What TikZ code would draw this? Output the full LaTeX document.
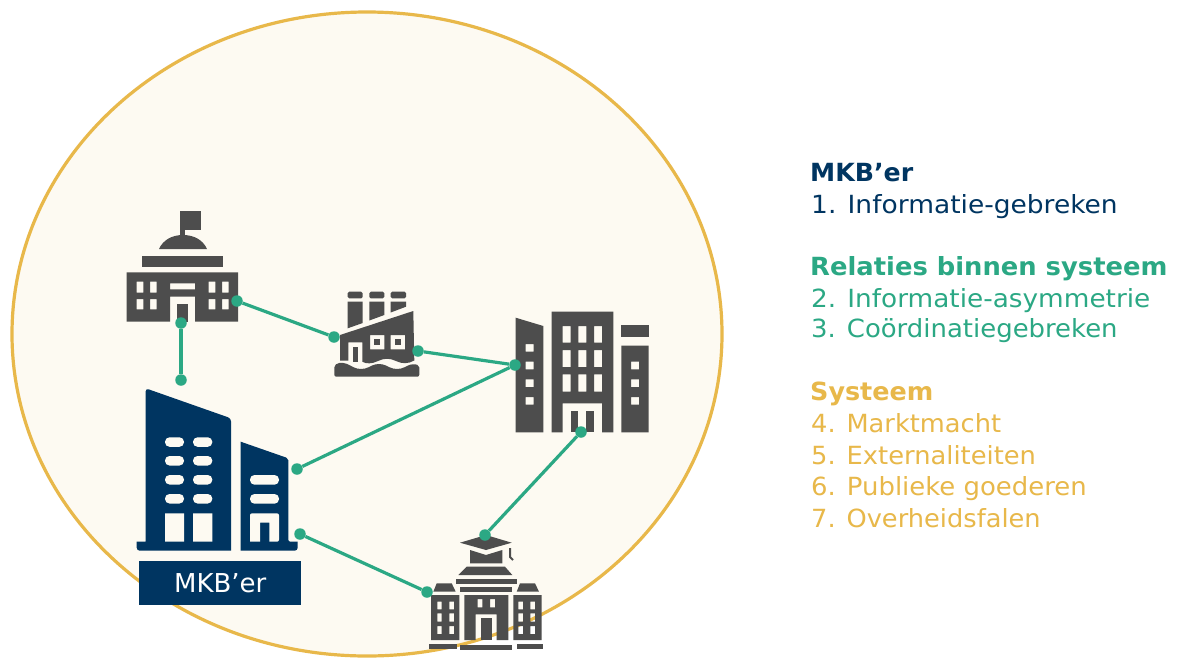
\documentclass[tikz,border=0pt]{standalone}
\usepackage{fontspec}
\setmainfont{DejaVu Sans}
\definecolor{navy}{HTML}{003561}
\definecolor{grn}{HTML}{2BA884}
\definecolor{gold}{HTML}{E8B84A}
\definecolor{cream}{HTML}{FDFAF2}
\definecolor{iconc}{HTML}{4D4D4D}
\tikzset{
  dk/.style={fill=iconc,draw=none,even odd rule},
  bl/.style={fill=navy,draw=none,even odd rule},
  dot/.style={circle,fill=grn,draw=none,inner sep=0pt,minimum size=11.5pt},
  link/.style={draw=grn,line width=3.2pt},
  legend/.style={anchor=base west,inner sep=0pt,font=\fontsize{25}{28}\selectfont},
  legendb/.style={legend,font=\fontsize{25}{28}\selectfont\bfseries},
  sx/.style={xscale=#1,transform shape},
  pill/.style={fill=cream,draw=none,rounded corners=4.5pt}
}
\begin{document}
\begin{tikzpicture}[x=1pt,y=-1pt]
\useasboundingbox (0,0) rectangle (1184,657);
% system circle
\begin{scope}
\clip (0,0) rectangle (1184,657);
\fill[white] (0,0) rectangle (1184,657);
\draw[fill=cream,draw=gold,line width=3.2pt] (367,334) ellipse [x radius=355,y radius=322];
\end{scope}

% --- government building
\path[dk] (179.5,211) rectangle (201,230);
\path[dk] (179.5,211) rectangle (185,237);
\path[dk] (159,249) .. controls (163,240) and (172,235) .. (183,235) .. controls (194,235) and (203,240) .. (207,249) -- cycle;
\path[dk] (142,255.7) rectangle (223,266.7);
\path[dk] (126.7,272.3) -- (238,272.3) -- (238,321.7) -- (195,321.7) -- (195,296.7) -- (170,296.7) -- (170,321.7) -- (126.7,321.7) -- cycle
  (136.7,281.7) rectangle (143.3,292.7) (150,281.7) rectangle (156.7,292.7)
  (136.7,299) rectangle (143.3,309.3) (150,299) rectangle (156.7,309.3)
  (208.7,281.7) rectangle (215.3,292.7) (222,281.7) rectangle (228.7,292.7)
  (208.7,299) rectangle (215.3,309.3) (222,299) rectangle (228.7,309.3)
  (170,283.3) rectangle (195,289.3);
\path[dk] (176.7,304) rectangle (188.3,321.7);

% --- factory
\path[dk,rounded corners=1.5pt] (347.7,291.7) rectangle (362.7,298.3);
\path[dk,rounded corners=1.5pt] (369.3,291.7) rectangle (384.3,298.3);
\path[dk,rounded corners=1.5pt] (390.7,291.7) rectangle (406,298.3);
\path[dk] (347.7,301.7) -- (362.7,301.7) -- (362.7,323) -- (347.7,328.3) -- cycle;
\path[dk] (369.3,301.7) -- (384.3,301.7) -- (384.3,315) -- (369.3,320.5) -- cycle;
\path[dk] (390.7,301.7) -- (406,301.7) -- (406,306.7) -- (390.7,312.5) -- cycle;
\path[dk] (340,335) -- (413.3,311) -- (414.3,360.5)
  .. controls (408,364) and (402,364) .. (396,361) .. controls (390,358) and (384,358) .. (378,361)
  .. controls (372,364) and (366,364) .. (362.3,361.7) -- (362.3,342.3) -- (348.3,342.3) -- (348.3,360.5) -- (340,360.5) -- cycle
  (370,335) rectangle (384.3,349.3) (390.7,335) rectangle (405,349.3);
\path[dk] (374.3,339.3) rectangle (380,345);
\path[dk] (395,339.3) rectangle (400.7,345);
\path[dk] (352.7,347.3) rectangle (357.7,361.7);
\path[dk,rounded corners=2pt] (334.3,376.7) -- (334.3,365.5)
  .. controls (340,361.5) and (346,363) .. (352,366.5) .. controls (358,369.5) and (364,369.5) .. (370,366.5)
  .. controls (376,363.5) and (382,363.5) .. (388,366.5) .. controls (394,369.5) and (400,369.5) .. (406,366.5)
  .. controls (411,364) and (415,364) .. (419.3,365.5) -- (419.3,376.7) -- cycle;

% --- office block
\path[dk] (515.7,317.7) -- (543.3,326) -- (543.3,432.3) -- (515.7,432.3) -- cycle
  (525.7,344) rectangle (533.7,351.7) (525.7,361.7) rectangle (533.7,369.3)
  (525.7,379.3) rectangle (533.7,387) (525.7,397) rectangle (533.7,404.7);
\path[dk] (551.7,311.7) -- (613.3,311.7) -- (613.3,432.3) -- (602,432.3) -- (602,403.3) -- (562.7,403.3) -- (562.7,432.3) -- (551.7,432.3) -- cycle
  (562.7,326) rectangle (570.7,342.7) (578.3,326) rectangle (586.3,342.7) (594,326) rectangle (602,342.7)
  (562.7,350) rectangle (570.7,367) (578.3,350) rectangle (586.3,367) (594,350) rectangle (602,367)
  (562.7,374.3) rectangle (570.7,391.7) (578.3,374.3) rectangle (586.3,391.7) (594,374.3) rectangle (602,391.7);
\path[dk] (570.7,411) rectangle (578.3,432.3);
\path[dk] (586.3,411) rectangle (594,432.3);
\path[dk] (621.3,325) rectangle (648.7,337.3);
\path[dk] (621.3,345.7) rectangle (648.7,432.3)
  (631,361.7) rectangle (639,369.3) (631,379.3) rectangle (639,387) (631,397) rectangle (639,404.7);

% --- MKB building
\path[bl,rounded corners=3pt] (231,550.7) -- (136.7,550.7) [sharp corners] -- (136.7,541.7) -- (145.7,541.7)
  [rounded corners=3pt] -- (145.7,388.3) -- (231,418.3) [sharp corners] -- (231,550.7) -- cycle;
\path[fill=cream] (165,513.3) rectangle (184,541.7) (193,513.3) rectangle (212.3,541.7);
\foreach \y in {437.3,456,475,494}{
  \path[pill] (165,\y) rectangle (184,\y+9.5);
  \path[pill] (193,\y) rectangle (212.3,\y+9.5);
}
\path[bl,rounded corners=2pt] (240.7,441.7) -- (288.3,458.3) -- (288.3,541.7) [sharp corners] -- (297.7,541.7)
  [rounded corners=3pt] -- (297.7,550.7) [sharp corners] -- (240.7,550.7) -- cycle;
\path[pill] (250,475) rectangle (279,484.7);
\path[pill] (250,494) rectangle (279,503.7);
\path[fill=cream,rounded corners=2pt] (250,541.7) -- (250,513.3) -- (279,513.3) -- (279,541.7) [sharp corners] -- (269.3,541.7) -- (269.3,522.7) -- (260,522.7) -- (260,541.7) -- cycle;
\node[fill=navy,text=white,minimum width=161.7pt,minimum height=44.6pt,inner sep=0pt,font=\fontsize{26}{28}\selectfont] (label) at (220.2,583) {MKB’er};

% --- school
\path[dk] (460,542.7) -- (486,535) -- (511.7,542.7) -- (486,550) -- cycle;
\path[dk] (470,550) -- (486,555) -- (502.3,550) -- (502.3,563.3) -- (470,563.3) -- cycle;
\draw[iconc,line width=2pt] (510,548) -- (510,557) -- (513,560);
\path[dk] (466.7,566.7) -- (505,566.7) -- (512.3,575) -- (458.3,575) -- cycle;
\path[dk] (455.7,579) rectangle (516.7,584);
\path[dk] (460,587.3) rectangle (512.3,591.7);
\path[dk] (436.7,583.3) -- (451.7,583.3) -- (455.7,591.7) -- (433.3,591.7) -- cycle;
\path[dk] (520,583.3) -- (535,583.3) -- (539,591.7) -- (516.7,591.7) -- cycle;
\path[dk] (431,595) rectangle (459.3,640)
  (437.3,601.7) rectangle (441.7,609.3) (449.3,601.7) rectangle (454,609.3)
  (437.3,613.3) rectangle (441.7,621.7) (449.3,613.3) rectangle (454,621.7)
  (437.3,626) rectangle (441.7,634) (449.3,626) rectangle (454,634);
\path[dk] (513.3,595) rectangle (541.7,640)
  (518.3,601.7) rectangle (523,609.3) (530.3,601.7) rectangle (535,609.3)
  (518.3,613.3) rectangle (523,621.7) (530.3,613.3) rectangle (535,621.7)
  (518.3,626) rectangle (523,634) (530.3,626) rectangle (535,634);
\path[dk] (464.3,595) -- (508.3,595) -- (508.3,640) -- (496.7,640) -- (496.7,614.3) -- (475.7,614.3) -- (475.7,640) -- (464.3,640) -- cycle
  (477.7,599) rectangle (482.3,607.3) (490,599) rectangle (495,607.3);
\path[dk] (480.7,618.3) rectangle (491.7,640);
\path[dk] (429.3,644) rectangle (456.7,649);
\path[dk] (460,645) rectangle (512.3,650);
\path[dk] (516.7,644) rectangle (543.3,649);

% --- connector end points
\node[dot] (govR) at (237,301) {};
\node[dot] (govB) at (181,323) {};
\node[dot] (mkbT) at (181,380) {};
\node[dot] (facL) at (334,337) {};
\node[dot] (facR) at (418,351) {};
\node[dot] (offL) at (515,365) {};
\node[dot] (offB) at (581,432) {};
\node[dot] (mkbR) at (297,469) {};
\node[dot] (mkbS) at (300,534) {};
\node[dot] (schT) at (485,535) {};
\node[dot] (schL) at (427,592) {};
\draw[link] (govR) -- (facL);
\draw[link] (govB) -- (mkbT);
\draw[link] (facR) -- (offL);
\draw[link] (offL) -- (mkbR);
\draw[link] (offB) -- (schT);
\draw[link] (mkbS) -- (schL);

% --- legend
\node[legendb,text=navy,sx=1.01] (t1) at (810,181) {MKB’er};
\node[legend,text=navy,sx=1.059] (t2) at (811,213) {1. Informatie-gebreken};
\node[legendb,text=grn,sx=1.032] (t3) at (810,275) {Relaties binnen systeem};
\node[legend,text=grn,sx=1.053] (t4) at (811,307) {2. Informatie-asymmetrie};
\node[legend,text=grn,sx=1.037] (t5) at (811,337.5) {3. Coördinatiegebreken};
\node[legendb,text=gold,sx=1.017] (t6) at (810,400) {Systeem};
\node[legend,text=gold,sx=1.027] (t7) at (811,432) {4. Marktmacht};
\node[legend,text=gold,sx=1.03] (t8) at (811,464) {5. Externaliteiten};
\node[legend,text=gold,sx=1.037] (t9) at (811,495) {6. Publieke goederen};
\node[legend,text=gold,sx=1.027] (t10) at (811,527) {7. Overheidsfalen};
\end{tikzpicture}
\end{document}
